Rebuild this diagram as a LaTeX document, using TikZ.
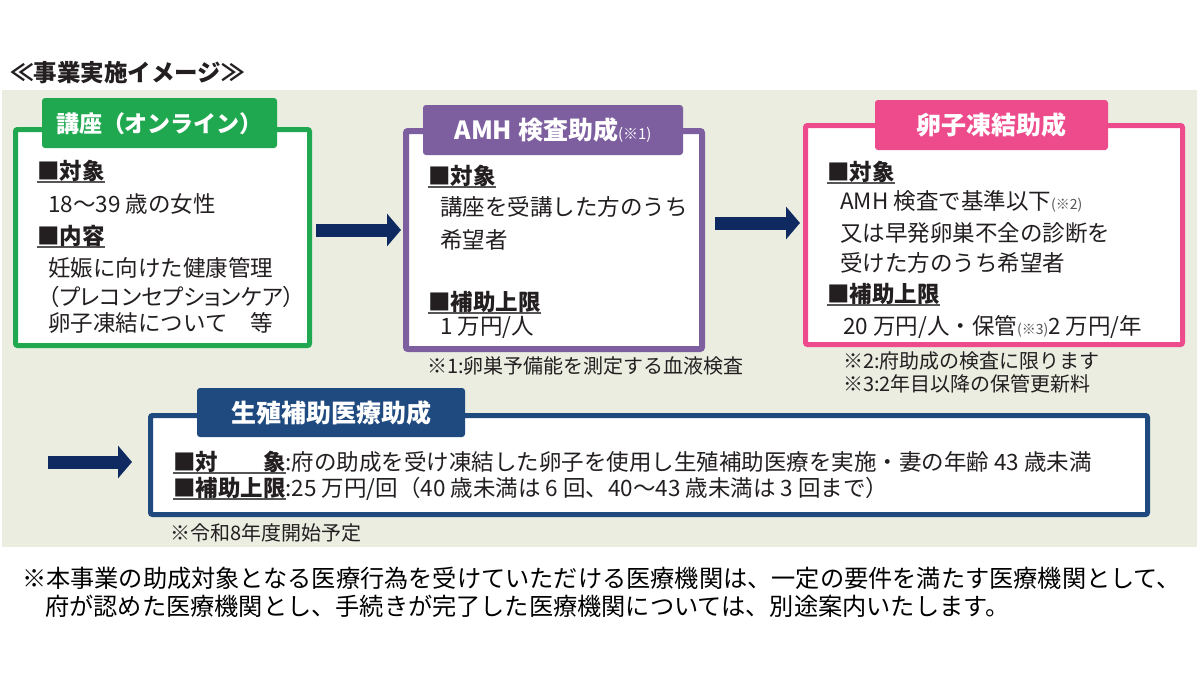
\documentclass[tikz,border=0pt]{standalone}
\usepackage{fontspec}
\setmainfont{Noto Sans CJK JP}
\usetikzlibrary{arrows.meta}
\definecolor{panel}{HTML}{EAEDE0}
\definecolor{grn}{HTML}{1FA84F}
\definecolor{prp}{HTML}{7D5FA0}
\definecolor{pnk}{HTML}{EE4B8C}
\definecolor{nvy}{HTML}{1F4A80}
\definecolor{arrowc}{HTML}{0F2A60}
\definecolor{ink}{HTML}{231F20}
\definecolor{ulc}{HTML}{555555}
\definecolor{smallc}{HTML}{555555}
\newcommand{\myul}[1]{\setbox0\hbox{\bfseries #1}\rlap{\raisebox{-3.5pt}{\color{ulc}\rule{\wd0}{1.6pt}}}\box0}
\newcommand{\sm}[1]{{\fontsize{14}{14}\selectfont\color{smallc}#1}}
\begin{document}
\begin{tikzpicture}[x=1pt,y=-1pt,
  box/.style={draw, fill=white, rounded corners=2pt, inner sep=0pt, line width=5pt},
  tab/.style={rounded corners=3pt, inner sep=0pt, minimum height=50pt, text=white,
    font=\bfseries\fontsize{25}{25}\selectfont, text height=22pt, text depth=3pt},
  txt/.style={anchor=base west, inner sep=0pt, text=ink, font=\fontsize{22.5}{27}\selectfont},
  note/.style={anchor=base west, inner sep=0pt, text=ink, font=\fontsize{20}{24}\selectfont},
  big/.style={anchor=base west, inner sep=0pt, text=black, font=\fontsize{24.2}{29}\selectfont},
  arr/.style={draw=arrowc, line width=13pt, -{Triangle[length=14pt,width=32pt]}}]
\useasboundingbox (0,0) rectangle (1200,675);
\fill[white] (0,0) rectangle (1200,675);
\node[fill=panel, minimum width=1195pt, minimum height=457pt, inner sep=0pt, anchor=north west] (panel) at (2,90) {};

% heading
\node[anchor=base west, inner sep=0pt, text=ink, font=\bfseries\fontsize{23.5}{28}\selectfont] (head) at (10,81) {≪事業実施イメージ≫};

% box 1
\node[box, draw=grn, minimum width=294pt, minimum height=216pt] (b1) at (162.5,237.5) {};
\node[tab, fill=grn, minimum width=235pt, font=\bfseries\fontsize{23}{23}\selectfont] (t1) at (159.5,123) {講座（オンライン）};
\node[txt] (b1a) at (37,179.5) {\myul{■対象}};
\node[txt] (b1b) at (48,212.5) {18～39 歳の女性};
\node[txt] (b1c) at (37,244.5) {\myul{■内容}};
\node[txt] (b1d) at (48,276.5) {妊娠に向けた健康管理};
\node[txt] (b1e) at (48,305.5) {\addfontfeature{RawFeature=+palt}（プレコンセプションケア）};
\node[txt] (b1f) at (48,331.5) {卵子凍結について　等};

% box 2
\node[box, draw=prp, line width=6pt, minimum width=296pt, minimum height=218pt] (b2) at (554,240) {};
\node[tab, fill=prp, minimum width=260pt] (t2) at (553,130) {AMH 検査助成{\fontsize{15}{15}\selectfont\mdseries(※1)}};
\node[txt] (b2a) at (428,184.5) {\myul{■対象}};
\node[txt] (b2b) at (440,215.5) {講座を受講した方のうち};
\node[txt] (b2c) at (440,248.5) {希望者};
\node[txt] (b2d) at (428,310.5) {\myul{■補助上限}};
\node[txt] (b2e) at (440,334.5) {1 万円/人};
\node[note] (n1) at (427,373.6) {※1:卵巣予備能を測定する血液検査};

% box 3
\node[box, draw=pnk, minimum width=377pt, minimum height=219pt] (b3) at (994,235) {};
\node[tab, fill=pnk, minimum width=233pt] (t3) at (991.5,125) {卵子凍結助成};
\node[txt] (b3a) at (827,180.5) {\myul{■対象}};
\node[txt] (b3b) at (840,209.5) {AMH 検査で基準以下\sm{(※2)}};
\node[txt] (b3c) at (840,241.5) {又は早発卵巣不全の診断を};
\node[txt] (b3d) at (840,271.5) {受けた方のうち希望者};
\node[txt] (b3e) at (827,302.5) {\myul{■補助上限}};
\node[txt] (b3f) at (843,334.5) {20 万円/人・保管\sm{(※3)}2 万円/年};
\node[note] (n2) at (843,368.6) {※2:府助成の検査に限ります};
\node[note] (n3) at (843,391.6) {※3:2年目以降の保管更新料};

% box 4
\node[box, draw=nvy, minimum width=997pt, minimum height=99pt] (b4) at (649,465) {};
\node[tab, fill=nvy, minimum width=268pt, minimum height=49pt] (t4) at (331,412.5) {生殖補助医療助成};
\node[txt] (b4a) at (173,470.5) {\myul{■対　　象}:府の助成を受け凍結した卵子を使用し生殖補助医療を実施・妻の年齢 43 歳未満};
\node[txt] (b4b) at (173,496.5) {\myul{■補助上限}:25 万円/回（40 歳未満は 6 回、40～43 歳未満は 3 回まで）};
\node[note] (n4) at (170,540.6) {※令和8年度開始予定};

% arrows
\coordinate (a1s) at (316,230);
\coordinate (a1e) at (401,230);
\coordinate (a2s) at (715,223);
\coordinate (a2e) at (800,223);
\coordinate (a3s) at (48,462);
\coordinate (a3e) at (132,462);
\draw[arr] (a1s) -- (a1e);
\draw[arr] (a2s) -- (a2e);
\draw[arr] (a3s) -- (a3e);

% bottom note
\node[big] (m1) at (22,587) {※本事業の助成対象となる医療行為を受けていただける医療機関は、一定の要件を満たす医療機関として、};
\node[big] (m2) at (45,615) {府が認めた医療機関とし、手続きが完了した医療機関については、別途案内いたします。};
\end{tikzpicture}
\end{document}
